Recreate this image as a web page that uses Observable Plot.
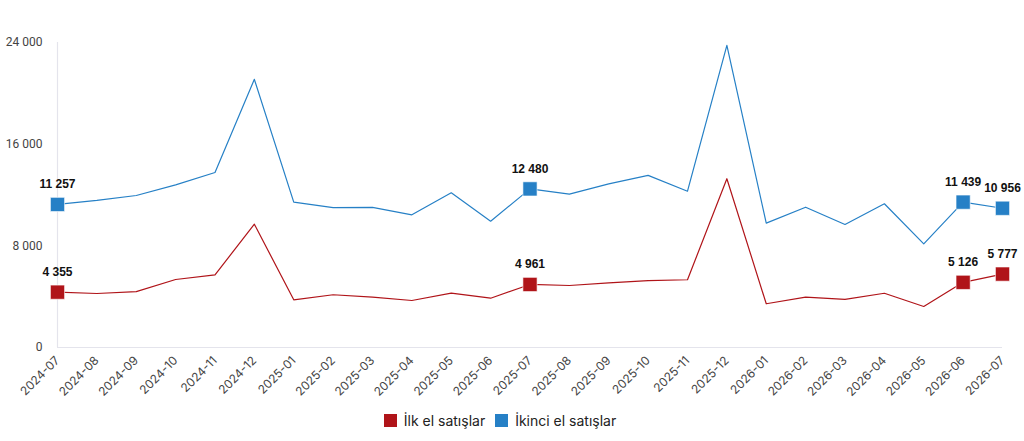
<!DOCTYPE html>
<html>
<head>
<meta charset="utf-8">
<script src="https://cdn.jsdelivr.net/npm/d3@7"></script>
<script src="https://cdn.jsdelivr.net/npm/@observablehq/plot@0.6"></script>
<style>
  html, body { margin: 0; padding: 0; background: #fff; }
  #chart { width: 1024px; }
  .legend { display: flex; justify-content: center; align-items: center; height: 41px; font-family: Inter, "Open Sans", sans-serif; font-size: 14px; color: #222; padding-right: 24px; }
  .legend .item { display: flex; align-items: center; margin: 0 5px; }
  .legend .sw { width: 13px; height: 13px; margin-right: 7px; display: inline-block; }
</style>
</head>
<body>
<div id="chart"></div>
<script>
const months = ["2024-07","2024-08","2024-09","2024-10","2024-11","2024-12","2025-01","2025-02","2025-03","2025-04","2025-05","2025-06","2025-07","2025-08","2025-09","2025-10","2025-11","2025-12","2026-01","2026-02","2026-03","2026-04","2026-05","2026-06","2026-07"];
const firstHand = [4355, 4250, 4400, 5350, 5720, 9700, 3750, 4150, 3960, 3700, 4275, 3880, 4961, 4880, 5090, 5270, 5330, 13280, 3440, 3960, 3780, 4270, 3230, 5126, 5777];
const secondHand = [11257, 11570, 11960, 12800, 13770, 21100, 11440, 11000, 11020, 10440, 12170, 9940, 12480, 12070, 12880, 13540, 12300, 23770, 9785, 11040, 9680, 11310, 8160, 11439, 10956];
const seriesNames = ["İlk el satışlar", "İkinci el satışlar"];
const seriesColors = ["#b01419", "#2680c6"];
const labelMonths = ["2024-07", "2025-07", "2026-06", "2026-07"];
const yTicks = [0, 8000, 16000, 24000];

const fmt = d => d3.format(",")(d).replace(/,/g, " ");

const data = [];
months.forEach((m, i) => {
  data.push({month: m, series: seriesNames[0], value: firstHand[i]});
  data.push({month: m, series: seriesNames[1], value: secondHand[i]});
});
const labeled = data.filter(d => labelMonths.includes(d.month));

const plot = Plot.plot({
  width: 1024,
  height: 400,
  marginLeft: 57,
  marginRight: 22,
  marginTop: 42,
  marginBottom: 53,
  style: {background: "#fff"},
  x: {type: "point", domain: months, padding: 0, round: false},
  y: {domain: [0, 24000]},
  color: {domain: seriesNames, range: seriesColors},
  marks: [
    Plot.ruleY([0], {stroke: "#e4e4ec", strokeWidth: 1.2}),
    Plot.ruleX([months[0]], {y1: 0, y2: 24000, stroke: "#e4e4ec", strokeWidth: 1.2}),
    Plot.axisY({ticks: yTicks, tickSize: 0, tickPadding: 15, tickFormat: fmt, fontSize: 12, fontFamily: "Roboto, Arial, sans-serif", color: "#444", label: null}),
    Plot.axisX({tickSize: 0, tickPadding: 11, tickRotate: -45, fontSize: 12, fontFamily: "Inter, 'Open Sans', sans-serif", color: "#444", label: null}),
    Plot.lineY(data, {x: "month", y: "value", z: "series", stroke: "series", strokeWidth: 1.2}),
    Plot.dot(labeled, {x: "month", y: "value", fill: "series", symbol: "square", r: 8, stroke: "#fff", strokeOpacity: 0.6, strokeWidth: 1}),
    Plot.text(labeled, {x: "month", y: "value", text: d => fmt(d.value), dy: -20, fontWeight: "bold", fontSize: 12, fontFamily: "'Liberation Sans', Arial, sans-serif", fill: "#111"})
  ]
});

const chart = document.getElementById("chart");
chart.appendChild(plot);

const legend = document.createElement("div");
legend.className = "legend";
seriesNames.forEach((n, i) => {
  const item = document.createElement("div");
  item.className = "item";
  const sw = document.createElement("span");
  sw.className = "sw";
  sw.style.background = seriesColors[i];
  const t = document.createElement("span");
  t.textContent = n;
  item.appendChild(sw);
  item.appendChild(t);
  legend.appendChild(item);
});
chart.appendChild(legend);
</script>
</body>
</html>
